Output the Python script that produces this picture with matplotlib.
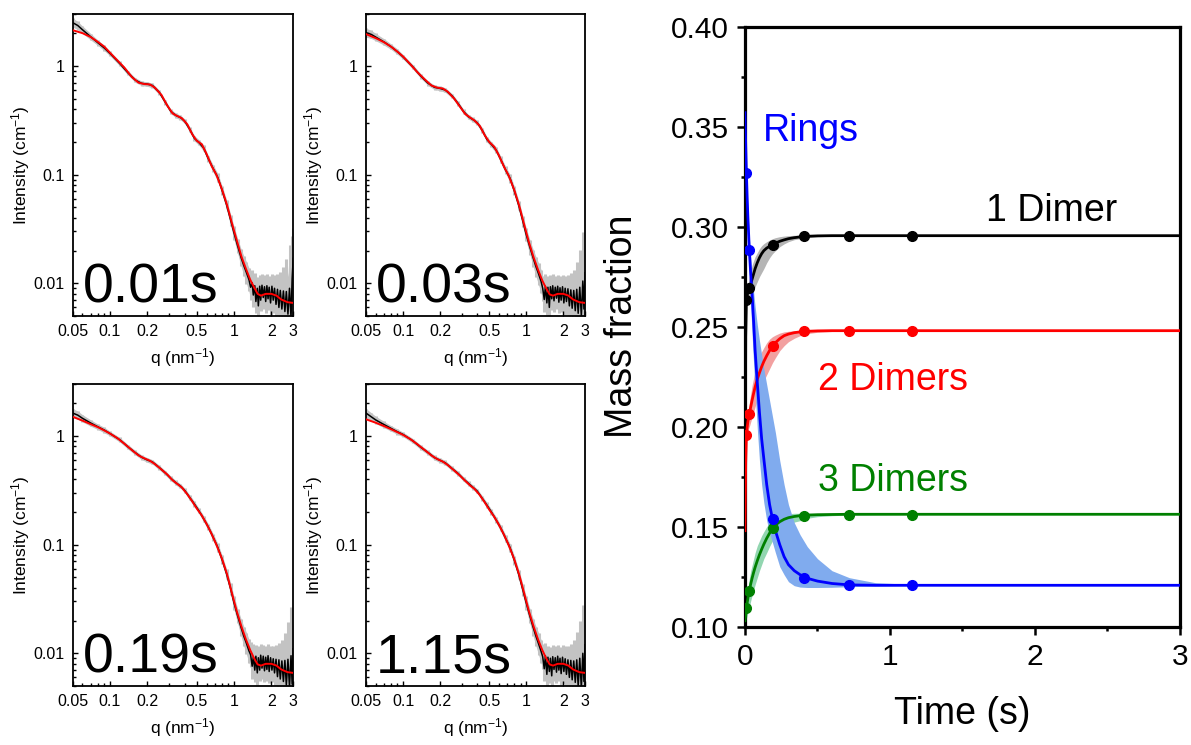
import matplotlib
matplotlib.use('Agg')
import matplotlib.pyplot as plt
from matplotlib.ticker import MultipleLocator, FormatStrFormatter, LogLocator, NullFormatter

plt.rcParams['font.family'] = ['Liberation Sans', 'DejaVu Sans']
plt.rcParams['mathtext.default'] = 'regular'

# ---- SAXS panels (left) ----
frame_labels = ['0.01s', '0.03s', '0.19s', '1.15s']

q_data = [0.05, 0.055, 0.06, 0.07, 0.08, 0.09, 0.1, 0.12, 0.14, 0.16,
          0.18, 0.2, 0.22, 0.25, 0.28, 0.31, 0.34, 0.37, 0.4, 0.44,
          0.48, 0.52, 0.57, 0.62, 0.68, 0.74, 0.8, 0.87, 0.94, 1.0,
          1.07, 1.14, 1.2, 1.26, 1.32,
          1.36, 1.40, 1.43, 1.47, 1.50, 1.54, 1.57, 1.61, 1.64, 1.68,
          1.72, 1.76, 1.80, 1.84, 1.88, 1.92, 1.97, 2.02, 2.07, 2.12,
          2.18, 2.24, 2.30, 2.36, 2.43, 2.50, 2.57, 2.64, 2.72, 2.80,
          2.88, 2.94, 3.0]

err_frac = [0.10, 0.09, 0.08, 0.07, 0.06, 0.06, 0.05, 0.05, 0.05, 0.05,
            0.05, 0.05, 0.05, 0.05, 0.05, 0.05, 0.05, 0.05, 0.05, 0.06,
            0.06, 0.06, 0.07, 0.07, 0.08, 0.09, 0.10, 0.11, 0.13, 0.15,
            0.17, 0.20, 0.23, 0.26, 0.28,
            0.30, 0.30, 0.30, 0.30, 0.28, 0.28, 0.27, 0.27, 0.27, 0.27,
            0.27, 0.27, 0.27, 0.27, 0.28, 0.28, 0.29, 0.30, 0.31, 0.33,
            0.35, 0.38, 0.42, 0.48, 0.55, 0.65, 0.8, 1.0, 1.2, 1.5,
            1.8, 1.5, 0.9]

I_data_001 = [2.50, 2.35, 2.15, 1.85, 1.63, 1.46, 1.30, 1.05, 0.86, 0.74,
              0.69, 0.68, 0.66, 0.57, 0.46, 0.38, 0.35, 0.335, 0.31, 0.26,
              0.215, 0.198, 0.175, 0.14, 0.113, 0.094, 0.072, 0.053, 0.038, 0.029,
              0.022, 0.0172, 0.0145, 0.0125, 0.0108,
              0.0092, 0.0101, 0.0078, 0.0095, 0.0068, 0.0090, 0.0062, 0.0094, 0.0070, 0.0096,
              0.0074, 0.0093, 0.0068, 0.0095, 0.0072, 0.0092, 0.0066, 0.0094, 0.0070, 0.0090,
              0.0064, 0.0088, 0.0060, 0.0086, 0.0058, 0.0085, 0.0055, 0.0084, 0.0052, 0.0090,
              0.0048, 0.0110, 0.0170]
I_data_003 = [2.02, 1.95, 1.84, 1.66, 1.50, 1.35, 1.21, 0.98, 0.80, 0.69,
              0.635, 0.62, 0.60, 0.53, 0.45, 0.38, 0.34, 0.32, 0.30, 0.255,
              0.21, 0.19, 0.168, 0.138, 0.11, 0.092, 0.071, 0.052, 0.037, 0.028,
              0.0215, 0.017, 0.0142, 0.0122, 0.0104,
              0.0090, 0.0071, 0.0094, 0.0066, 0.0092, 0.0060, 0.0093, 0.0072, 0.0095, 0.0069,
              0.0092, 0.0073, 0.0094, 0.0067, 0.0091, 0.0070, 0.0093, 0.0066, 0.0090, 0.0068,
              0.0089, 0.0062, 0.0087, 0.0059, 0.0086, 0.0056, 0.0088, 0.0053, 0.0092, 0.0050,
              0.0105, 0.0058, 0.0125]
I_data_019 = [1.62, 1.55, 1.45, 1.31, 1.21, 1.13, 1.05, 0.92, 0.79, 0.70,
              0.635, 0.60, 0.575, 0.51, 0.455, 0.405, 0.37, 0.345, 0.315, 0.27,
              0.235, 0.205, 0.172, 0.145, 0.116, 0.094, 0.073, 0.054, 0.039, 0.029,
              0.022, 0.0172, 0.0143, 0.0123, 0.0105,
              0.0097, 0.0076, 0.0093, 0.0070, 0.0094, 0.0066, 0.0091, 0.0070, 0.0096, 0.0073,
              0.0094, 0.0069, 0.0092, 0.0071, 0.0095, 0.0068, 0.0091, 0.0070, 0.0089, 0.0066,
              0.0088, 0.0061, 0.0087, 0.0058, 0.0085, 0.0055, 0.0086, 0.0051, 0.0088, 0.0049,
              0.0095, 0.0052, 0.0110]
I_data_115 = [1.62, 1.50, 1.40, 1.27, 1.17, 1.09, 1.03, 0.90, 0.78, 0.70,
              0.63, 0.595, 0.565, 0.50, 0.45, 0.40, 0.365, 0.335, 0.31, 0.265,
              0.23, 0.20, 0.168, 0.142, 0.114, 0.093, 0.072, 0.053, 0.038, 0.029,
              0.022, 0.0172, 0.0143, 0.0122, 0.0104,
              0.0093, 0.0072, 0.0095, 0.0064, 0.0092, 0.0068, 0.0090, 0.0062, 0.0093, 0.0071,
              0.0091, 0.0067, 0.0094, 0.0070, 0.0090, 0.0065, 0.0092, 0.0068, 0.0089, 0.0064,
              0.0087, 0.0060, 0.0086, 0.0057, 0.0085, 0.0054, 0.0087, 0.0050, 0.0090, 0.0048,
              0.0100, 0.0055, 0.0120]

q_fit = [0.05, 0.06, 0.07, 0.08, 0.09, 0.1, 0.115, 0.13, 0.15, 0.17,
         0.19, 0.21, 0.23, 0.26, 0.29, 0.32, 0.35, 0.38, 0.42, 0.46,
         0.5, 0.55, 0.6, 0.66, 0.72, 0.8, 0.88, 0.96, 1.05, 1.15,
         1.25, 1.35, 1.45, 1.55, 1.65, 1.8, 2.0, 2.2, 2.4, 2.7, 3.0]

I_fit_001 = [2.13, 2.0, 1.84, 1.66, 1.5, 1.32, 1.12, 0.97, 0.79, 0.70,
             0.68, 0.675, 0.63, 0.54, 0.43, 0.365, 0.345, 0.33, 0.29, 0.235,
             0.205, 0.19, 0.155, 0.12, 0.10, 0.073, 0.052, 0.036, 0.025, 0.0175,
             0.0135, 0.0108, 0.0092, 0.0080, 0.0077, 0.0080, 0.0080, 0.0077, 0.0071, 0.0067, 0.0066]
I_fit_003 = [1.96, 1.80, 1.65, 1.50, 1.35, 1.22, 1.03, 0.88, 0.75, 0.66,
             0.63, 0.62, 0.58, 0.50, 0.42, 0.36, 0.335, 0.315, 0.28, 0.23,
             0.20, 0.18, 0.15, 0.118, 0.098, 0.072, 0.051, 0.035, 0.024, 0.0172,
             0.0132, 0.0106, 0.0090, 0.0079, 0.0077, 0.0080, 0.0080, 0.0077, 0.0071, 0.0067, 0.0066]
I_fit_019 = [1.50, 1.38, 1.28, 1.20, 1.12, 1.05, 0.95, 0.85, 0.74, 0.66,
             0.62, 0.59, 0.55, 0.49, 0.44, 0.39, 0.36, 0.335, 0.29, 0.25,
             0.215, 0.185, 0.155, 0.125, 0.10, 0.074, 0.053, 0.036, 0.0245, 0.0175,
             0.0133, 0.0107, 0.0090, 0.0079, 0.0077, 0.0080, 0.0080, 0.0077, 0.0071, 0.0067, 0.0066]
I_fit_115 = [1.42, 1.32, 1.23, 1.15, 1.08, 1.02, 0.93, 0.84, 0.74, 0.66,
             0.61, 0.58, 0.54, 0.48, 0.43, 0.385, 0.35, 0.325, 0.285, 0.245,
             0.21, 0.18, 0.152, 0.123, 0.099, 0.073, 0.052, 0.036, 0.0245, 0.0175,
             0.0133, 0.0107, 0.0090, 0.0079, 0.0077, 0.0080, 0.0080, 0.0077, 0.0071, 0.0067, 0.0066]

q_ticks = [0.05, 0.1, 0.2, 0.5, 1, 2, 3]
q_tick_labels = ['0.05', '0.1', '0.2', '0.5', '1', '2', '3']
I_ticks = [0.01, 0.1, 1]
I_tick_labels = ['0.01', '0.1', '1']

# ---- kinetics panel (right) ----
t_pts = [0.01, 0.03, 0.19, 0.41, 0.72, 1.15]
rings_pts = [0.3267, 0.2883, 0.1538, 0.1245, 0.1208, 0.1208]
d1_pts = [0.2633, 0.2692, 0.2908, 0.2952, 0.2955, 0.2955]
d2_pts = [0.1957, 0.2064, 0.2403, 0.2476, 0.2480, 0.2480]
d3_pts = [0.1092, 0.1180, 0.1492, 0.1555, 0.1560, 0.1560]

t_fit = [0, 0.005, 0.01, 0.015, 0.02, 0.03, 0.04, 0.05, 0.06, 0.07,
         0.085, 0.1, 0.115, 0.13, 0.15, 0.17, 0.19, 0.21, 0.24, 0.27,
         0.3, 0.34, 0.38, 0.43, 0.5, 0.6, 0.72, 0.9, 1.15, 1.5, 3.0]

rings_fit = [0.357, 0.341, 0.3267, 0.315, 0.305, 0.2883, 0.276, 0.265, 0.252, 0.238,
             0.222, 0.207, 0.194, 0.184, 0.171, 0.161, 0.1538, 0.148, 0.141, 0.135,
             0.131, 0.128, 0.126, 0.1242, 0.1228, 0.1216, 0.1209, 0.1207, 0.1207, 0.1207, 0.1207]
rings_hi = [0.357, 0.342, 0.329, 0.318, 0.309, 0.295, 0.284, 0.275, 0.267, 0.26,
            0.251, 0.243, 0.236, 0.229, 0.221, 0.213, 0.205, 0.197, 0.183, 0.171,
            0.161, 0.152, 0.146, 0.140, 0.134, 0.128, 0.1245, 0.122, 0.1212, 0.1208, 0.1207]
rings_lo = [0.357, 0.338, 0.322, 0.308, 0.296, 0.276, 0.26, 0.245, 0.231, 0.218,
            0.199, 0.183, 0.171, 0.162, 0.153, 0.147, 0.142, 0.137, 0.13, 0.126,
            0.1225, 0.1205, 0.1198, 0.1196, 0.1196, 0.1197, 0.12, 0.1203, 0.1206, 0.1207, 0.1207]

d1_fit = [0.13, 0.245, 0.2633, 0.2655, 0.267, 0.2692, 0.2715, 0.274, 0.2765, 0.279,
          0.282, 0.2845, 0.2865, 0.288, 0.2893, 0.2902, 0.291, 0.2918, 0.2927, 0.2934,
          0.294, 0.2945, 0.2949, 0.2952, 0.2954, 0.2955, 0.2955, 0.2955, 0.2955, 0.2955, 0.2955]
d1_hi = [0.13, 0.247, 0.265, 0.268, 0.271, 0.275, 0.278, 0.281, 0.283, 0.285,
         0.287, 0.289, 0.2905, 0.2915, 0.2925, 0.2933, 0.294, 0.2945, 0.295, 0.2953,
         0.2955, 0.2957, 0.2957, 0.2957, 0.2957, 0.2956, 0.2956, 0.2955, 0.2955, 0.2955, 0.2955]
d1_lo = [0.13, 0.243, 0.261, 0.262, 0.263, 0.263, 0.2645, 0.266, 0.268, 0.27,
         0.2725, 0.275, 0.277, 0.279, 0.282, 0.2845, 0.2865, 0.288, 0.29, 0.2914,
         0.2925, 0.2935, 0.294, 0.2945, 0.295, 0.2952, 0.2953, 0.2954, 0.2955, 0.2955, 0.2955]

d2_fit = [0.148, 0.182, 0.1957, 0.1995, 0.2025, 0.2064, 0.21, 0.2135, 0.2168, 0.2198,
          0.2237, 0.227, 0.23, 0.2326, 0.2355, 0.2381, 0.2403, 0.242, 0.244, 0.2455,
          0.2463, 0.247, 0.2474, 0.2477, 0.2479, 0.248, 0.248, 0.248, 0.248, 0.248, 0.248]
d2_hi = [0.148, 0.184, 0.197, 0.202, 0.206, 0.212, 0.2165, 0.221, 0.2245, 0.228,
         0.232, 0.235, 0.2375, 0.2395, 0.242, 0.2438, 0.245, 0.2458, 0.2468, 0.2474,
         0.2477, 0.248, 0.2482, 0.2482, 0.2482, 0.2481, 0.2481, 0.248, 0.248, 0.248, 0.248]
d2_lo = [0.148, 0.18, 0.194, 0.196, 0.198, 0.2, 0.2025, 0.205, 0.2075, 0.21,
         0.2135, 0.217, 0.22, 0.223, 0.226, 0.229, 0.232, 0.2345, 0.238, 0.2405,
         0.2425, 0.2442, 0.2455, 0.2465, 0.2472, 0.2476, 0.2478, 0.2479, 0.248, 0.248, 0.248]

d3_fit = [0.103, 0.106, 0.1092, 0.1118, 0.1142, 0.118, 0.1215, 0.1245, 0.1272, 0.1297,
          0.133, 0.136, 0.1387, 0.1412, 0.1442, 0.1468, 0.1492, 0.1508, 0.1525, 0.1537,
          0.1545, 0.1551, 0.1555, 0.1558, 0.156, 0.1561, 0.1562, 0.1562, 0.1562, 0.1562, 0.1562]
d3_hi = [0.106, 0.11, 0.113, 0.116, 0.119, 0.124, 0.128, 0.131, 0.134, 0.137,
         0.1405, 0.143, 0.1455, 0.1475, 0.15, 0.152, 0.1535, 0.1545, 0.1557, 0.1562,
         0.1565, 0.1567, 0.1567, 0.1567, 0.1566, 0.1565, 0.1564, 0.1563, 0.1563, 0.1562, 0.1562]
d3_lo = [0.1, 0.102, 0.104, 0.1055, 0.107, 0.11, 0.113, 0.116, 0.1185, 0.121,
         0.1245, 0.128, 0.131, 0.134, 0.137, 0.1402, 0.143, 0.1453, 0.148, 0.1497,
         0.151, 0.1523, 0.153, 0.1542, 0.155, 0.1555, 0.1558, 0.156, 0.1561, 0.1562, 0.1562]


fig = plt.figure(figsize=(11.91, 7.45), dpi=100)

saxs_sets = [(I_data_001, I_fit_001), (I_data_003, I_fit_003),
             (I_data_019, I_fit_019), (I_data_115, I_fit_115)]
saxs_pos = [[0.0610, 0.5758, 0.1852, 0.4054],
            [0.3073, 0.5758, 0.1839, 0.4054],
            [0.0610, 0.0792, 0.1852, 0.4054],
            [0.3073, 0.0792, 0.1839, 0.4054]]

for label, (idata, ifit), pos in zip(frame_labels, saxs_sets, saxs_pos):
    ax = fig.add_axes(pos)
    upper = [v * (1 + e) for v, e in zip(idata, err_frac)]
    lower = [v / (1 + e) for v, e in zip(idata, err_frac)]
    # error bars drawn as a grey band plus thick vertical bars
    ax.fill_between(q_data, lower, upper, color='#c3c3c3', lw=0, zorder=1)
    ax.vlines(q_data, lower, upper, color='#c3c3c3', lw=2.2, zorder=1)
    ax.plot(q_data, idata, color='black', lw=1.1, zorder=2)
    ax.plot(q_fit, ifit, color='red', lw=1.4, zorder=3)
    ax.set_xscale('log')
    ax.set_yscale('log')
    ax.set_xlim(0.05, 3)
    ax.set_ylim(0.005, 3)
    ax.set_xticks(q_ticks)
    ax.set_xticklabels(q_tick_labels)
    ax.set_yticks(I_ticks)
    ax.set_yticklabels(I_tick_labels)
    ax.xaxis.set_minor_locator(LogLocator(base=10, subs=range(2, 10), numticks=20))
    ax.yaxis.set_minor_locator(LogLocator(base=10, subs=range(2, 10), numticks=20))
    ax.xaxis.set_minor_formatter(NullFormatter())
    ax.yaxis.set_minor_formatter(NullFormatter())
    ax.tick_params(which='both', direction='in', top=False, right=False,
                   labelsize=11.5, width=1.0)
    ax.tick_params(which='major', length=3.5, pad=6)
    ax.tick_params(which='minor', length=2)
    for sp in ax.spines.values():
        sp.set_linewidth(1.3)
    ax.set_xlabel('q (nm$^{-1}$)', fontsize=12.5, labelpad=5)
    ax.set_ylabel('Intensity (cm$^{-1}$)', fontsize=12.5, labelpad=1)
    ax.text(0.045, 0.045, label, transform=ax.transAxes, fontsize=40,
            ha='left', va='baseline', zorder=5)

# kinetics
ax = fig.add_axes([0.6255, 0.1588, 0.3652, 0.8054])
species = [
    (d1_fit, d1_lo, d1_hi, d1_pts, 'black', '#b5b5b5'),
    (d2_fit, d2_lo, d2_hi, d2_pts, '#ff0000', '#f2a0a0'),
    (d3_fit, d3_lo, d3_hi, d3_pts, '#008000', '#92d6b0'),
    (rings_fit, rings_lo, rings_hi, rings_pts, '#0000ff', '#80abee'),
]
for fit, lo, hi, pts, col, band in species:
    ax.fill_between(t_fit, lo, hi, color=band, lw=0, zorder=1)
for fit, lo, hi, pts, col, band in species:
    ax.plot(t_fit, fit, color=col, lw=2.0, zorder=3)
    ax.plot(t_pts, pts, 'o', color=col, ms=7, zorder=4)

ax.set_xlim(0, 3)
ax.set_ylim(0.10, 0.40)
ax.xaxis.set_major_locator(MultipleLocator(1))
ax.xaxis.set_minor_locator(MultipleLocator(0.5))
ax.yaxis.set_major_locator(MultipleLocator(0.05))
ax.yaxis.set_minor_locator(MultipleLocator(0.025))
ax.yaxis.set_major_formatter(FormatStrFormatter('%.2f'))
ax.tick_params(which='both', direction='out', top=False, right=False, width=1.8)
ax.tick_params(which='major', length=5.5, labelsize=21.5, pad=6)
ax.tick_params(which='minor', length=3)
for sp in ax.spines.values():
    sp.set_linewidth(2.3)
ax.set_xlabel('Time (s)', fontsize=27, labelpad=18)
ax.set_ylabel('Mass fraction', fontsize=27, labelpad=22)

ax.text(0.124, 0.343, 'Rings', color='#0000ff', fontsize=27, va='baseline', ha='left')
ax.text(1.66, 0.3028, '1 Dimer', color='black', fontsize=27, va='baseline', ha='left')
ax.text(0.505, 0.2185, '2 Dimers', color='#ff0000', fontsize=27, va='baseline', ha='left')
ax.text(0.505, 0.168, '3 Dimers', color='#008000', fontsize=27, va='baseline', ha='left')

fig.savefig('out.png', dpi=100)
